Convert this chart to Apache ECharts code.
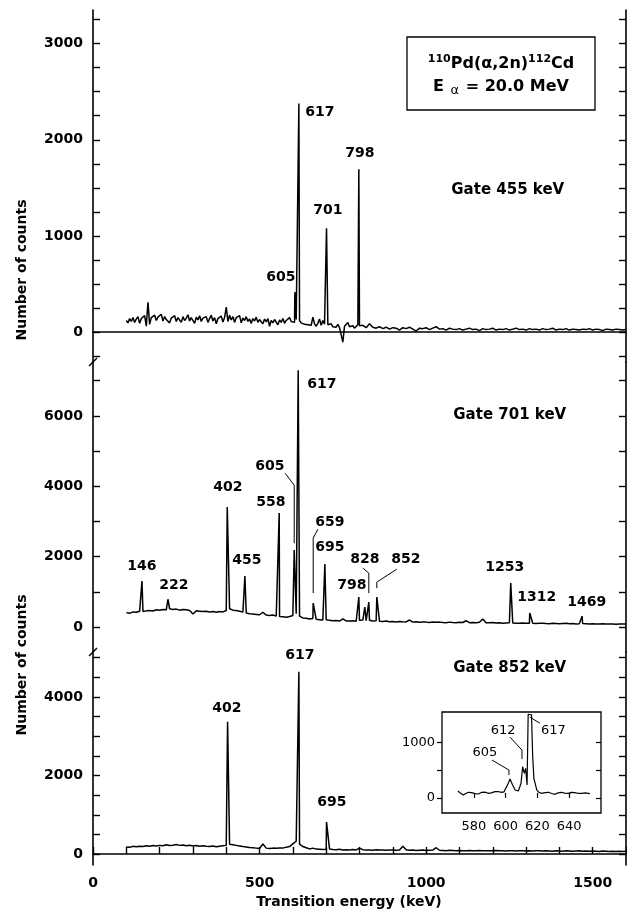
<!DOCTYPE html>
<html>
<head>
<meta charset="utf-8">
<script src="https://cdn.jsdelivr.net/npm/echarts@6/dist/echarts.min.js"></script>
<style>
  html, body { margin: 0; background: #fff; }
  #chart { width: 627px; height: 916px; }
</style>
</head>
<body>
<div id="chart"></div>
<script>
// Gate 455 keV spectrum: 100-800 keV every 5 keV, then 810-1600 keV every 10 keV
var g455Low = [
  120, 95, 140, 110, 150, 100, 135, 160, 90, 140,
  120, 170, 60, 310, 80, 150, 130, 175, 120, 155,
  140, 185, 115, 160, 130, 150, 95, 145, 125, 170,
  110, 150, 135, 100, 160, 120, 145, 180, 115, 150,
  130, 90, 155, 125, 170, 110, 145, 125, 160, 100,
  140, 175, 115, 150, 85, 140, 120, 165, 105, 150,
  260, 110, 175, 125, 160, 100, 150, 130, 170, 95,
  145, 120, 160, 110, 135, 90, 140, 115, 155, 100,
  130, 110, 85, 135, 105, 140, 60, 120, 95, 130,
  110, 75, 125, 100, 140, 90, 120, 105, 150, 110,
  115, 100, 130, 140, 120, 95, 110, 80, 100, 75,
  95, 70, 155, 85, 60, 90, 135, 70, 120, 80,
  95, 75, 60, 85, 55, 70, 50, 80, 45, 65,
  -105, 60, 40, 100, 55, 45, 65, 40, 60, 75,
  65
];
var g455High = [
  70, 45, 85, 50, 40, 55, 35, 50, 30, 45,
  40, 20, 45, 35, 50, 30, 10, 40, 35, 45,
  25, 40, 55, 30, 35, 20, 40, 30, 25, 35,
  20, 30, 40, 25, 30, 15, 35, 25, 30, 40,
  20, 30, 25, 35, 20, 30, 40, 25, 30, 20,
  35, 25, 30, 20, 35, 25, 30, 40, 20, 30,
  25, 35, 20, 30, 25, 20, 30, 25, 35, 20,
  30, 25, 15, 30, 25, 20, 30, 25, 20, 25
];
var g455Peaks = [[606, 415], [618, 2378], [701, 1080], [798, 1693]];

// Gate 701 keV spectrum: 100-1600 keV every 10 keV
var g701Counts = [
  410, 390, 430, 420, 450, 440, 460, 470, 455, 490,
  480, 500, 490, 520, 500, 510, 480, 500, 490, 470,
  370, 460, 450, 440, 450, 430, 440, 420, 440, 430,
  470, 520, 480, 470, 450, 430, 400, 380, 370, 360,
  350, 420, 340, 330, 340, 310, 300, 290, 280, 300,
  330, 380, 310, 260, 250, 230, 240, 220, 210, 200,
  210, 190, 180, 185, 170, 230, 175, 170, 180, 165,
  190, 200, 180, 190, 175, 180, 165, 160, 170, 150,
  155, 145, 160, 150, 145, 200, 140, 150, 135, 145,
  140, 130, 145, 135, 140, 130, 125, 140, 130, 125,
  135, 130, 180, 125, 130, 120, 135, 230, 125, 120,
  130, 115, 120, 110, 115, 120, 115, 110, 105, 115,
  110, 105, 110, 100, 105, 110, 100, 95, 105, 100,
  95, 100, 105, 95, 100, 90, 95, 100, 95, 90,
  95, 90, 85, 95, 90, 85, 90, 80, 85, 90,
  85
];
var g701Peaks = [
  [147, 1306], [225, 790], [403, 3408], [456, 1448], [559, 3238], [604, 2187],
  [616, 7300], [661, 680], [696, 1790], [798, 850], [816, 570], [828, 710],
  [852, 850], [1254, 1250], [1311, 400], [1468, 310]
];

// Gate 852 keV spectrum: 100-1600 keV every 10 keV
var g852Counts = [
  180, 170, 195, 185, 200, 190, 210, 200, 215, 205,
  220, 210, 235, 215, 225, 240, 220, 230, 210, 225,
  205, 215, 200, 210, 195, 190, 205, 185, 200, 210,
  220, 250, 235, 220, 205, 190, 180, 165, 160, 150,
  140, 255, 150, 140, 150, 145, 155, 150, 175, 190,
  260, 330, 250, 190, 160, 130, 150, 125, 120, 115,
  120, 130, 115, 110, 120, 105, 110, 100, 115, 105,
  150, 110, 100, 105, 95, 110, 100, 105, 95, 100,
  105, 95, 100, 200, 110, 95, 100, 90, 95, 100,
  90, 95, 100, 160, 95, 90, 85, 95, 90, 85,
  90, 85, 80, 90, 85, 80, 90, 85, 80, 85,
  80, 90, 85, 80, 75, 85, 80, 75, 85, 80,
  75, 80, 75, 85, 80, 75, 80, 75, 70, 80,
  75, 70, 80, 75, 70, 75, 80, 70, 75, 70,
  75, 70, 65, 75, 70, 65, 70, 65, 70, 65,
  70
];
var g852Peaks = [[404, 3366], [618, 4640], [701, 815]];

// inset: Gate 852 keV around 617 keV
var insetE = [570, 571.5, 573.4, 575, 576.6, 578.5, 580.8, 583, 585, 587, 589, 591, 593.3, 595, 597.5, 599,
  600, 601.7, 602.8, 604.2, 606, 608, 609.7, 610.7, 611.8, 612.6, 613.5, 614.2, 616.3, 617, 617.8, 619.6,
  621, 622.7, 625, 626.9, 629, 631, 633, 635.3, 637, 639.4, 641.5, 643.6, 646, 647.9, 650, 653];
var insetC = [125, 90, 54, 80, 101, 95, 77, 70, 101, 105, 83, 90, 113, 115, 101, 110,
  143, 262, 339, 244, 143, 125, 262, 560, 440, 530, 232, 1500, 1490, 768, 351, 143,
  100, 83, 95, 101, 80, 65, 90, 101, 85, 83, 100, 95, 80, 83, 90, 77];

// tick values
var xTickVals = [0, 100, 200, 300, 400, 500, 600, 700, 800, 900, 1000, 1100, 1200, 1300, 1400, 1500, 1600];
var xLabelVals = [0, 500, 1000, 1500];
var y455Ticks = [-250, 0, 250, 500, 750, 1000, 1250, 1500, 1750, 2000, 2250, 2500, 2750, 3000, 3250];
var y455Labels = [0, 1000, 2000, 3000];
var y701Ticks = [0, 1000, 2000, 3000, 4000, 5000, 6000, 7000];
var y701Labels = [0, 2000, 4000, 6000];
var y852Ticks = [0, 500, 1000, 1500, 2000, 2500, 3000, 3500, 4000, 4500, 5000];
var y852Labels = [0, 2000, 4000];
var insetXTicks = [580, 600, 620, 640];
var insetYTicks = [0, 500, 1000];
var insetYLabels = [0, 1000];

// peak labels [energy, counts, text]
var labels455 = [[564, 571, '605'], [681, 2284, '617'], [705, 1266, '701'], [801, 1858, '798']];
var labels701 = [
  [147, 1731, '146'], [243, 1192, '222'], [405, 3972, '402'], [462, 1901, '455'],
  [534, 3546, '558'], [531, 4568, '605'], [687, 6894, '617'], [711, 2979, '659'],
  [711, 2270, '695'], [777, 1192, '798'], [816, 1929, '828'], [939, 1929, '852'],
  [1236, 1702, '1253'], [1332, 851, '1312'], [1482, 709, '1469']
];
var labels852 = [[402, 3720, '402'], [621, 5070, '617'], [717, 1325, '695']];
var gateLabels455 = [[1245, 1474, 'Gate 455 keV']];
var gateLabels701 = [[1251, 6015, 'Gate 701 keV']];
var gateLabels852 = [[1251, 4739, 'Gate 852 keV']];
var insetLabels = [[598.4, 1214, '612'], [587, 804, '605'], [630, 1214, '617']];

// leader lines
var leaders701 = [
  [[577, 4369], [604, 4029], [604, 2380]],
  [[675, 2780], [661, 2525], [661, 965]],
  [[810, 1674], [828, 1532], [828, 965]],
  [[912, 1645], [852, 1277], [852, 1106]]
];
var leadersInset = [
  [[602.8, 1089], [610.3, 857], [610.3, 697]],
  [[591.4, 679], [602.1, 500], [602.1, 411]],
  [[621.6, 1339], [615.3, 1447]]
];

var FONT = 'DejaVu Sans';

function plain(v) { return String(v); }

function spectrum(start, step, counts, peaks) {
  var pts = counts.map(function (c, i) { return [start + i * step, c]; });
  return pts.concat(peaks).sort(function (a, b) { return a[0] - b[0]; });
}

var data455 = spectrum(100, 5, g455Low, []).concat(spectrum(810, 10, g455High, []))
  .concat(g455Peaks).sort(function (a, b) { return a[0] - b[0]; });
var data701 = spectrum(100, 10, g701Counts, g701Peaks);
var data852 = spectrum(100, 10, g852Counts, g852Peaks);
var dataInset = insetE.map(function (e, i) { return [e, insetC[i]]; });

function yLeft(gi, min, max, ticks, labels) {
  return {
    type: 'value', gridIndex: gi, min: min, max: max, position: 'left',
    axisLine: { show: true, lineStyle: { color: '#000', width: 1.6 } },
    axisTick: { show: true, inside: true, length: 7, customValues: ticks, lineStyle: { color: '#000', width: 1.4 } },
    axisLabel: { show: true, customValues: labels, formatter: plain, margin: 10, color: '#000', fontFamily: FONT, fontWeight: 'bold', fontSize: 14 },
    splitLine: { show: false }
  };
}
function yRight(gi, min, max, ticks) {
  return {
    type: 'value', gridIndex: gi, min: min, max: max, position: 'right',
    axisLine: { show: true, lineStyle: { color: '#000', width: 1.6 } },
    axisTick: { show: true, inside: true, length: 7, customValues: ticks, lineStyle: { color: '#000', width: 1.4 } },
    axisLabel: { show: false },
    splitLine: { show: false }
  };
}

function specSeries(data, xi, yi, w) {
  return {
    type: 'line', data: data, xAxisIndex: xi, yAxisIndex: yi,
    symbol: 'none', showSymbol: false, silent: true,
    lineStyle: { color: '#000', width: w }
  };
}
function labelSeries(items, xi, yi, size, weight) {
  return {
    type: 'scatter', data: items, xAxisIndex: xi, yAxisIndex: yi,
    symbolSize: 1, itemStyle: { color: 'rgba(0,0,0,0)', opacity: 1 }, silent: true, z: 5,
    label: {
      show: true, position: 'inside', align: 'center', verticalAlign: 'middle', opacity: 1,
      formatter: function (p) { return p.data[2]; },
      color: '#000', fontFamily: FONT, fontWeight: weight, fontSize: size
    }
  };
}
function leaderSeries(pts, xi, yi) {
  return {
    type: 'line', data: pts, xAxisIndex: xi, yAxisIndex: yi,
    symbol: 'none', silent: true, z: 4,
    lineStyle: { color: '#000', width: 1 }
  };
}

var chart = echarts.init(document.getElementById('chart'));

var series = [
  specSeries(data455, 0, 0, 1.5),
  specSeries(data701, 1, 2, 1.5),
  specSeries(data852, 2, 4, 1.5),
  specSeries(dataInset, 3, 6, 1.2),
  labelSeries(labels455, 0, 0, 14, 'bold'),
  labelSeries(gateLabels455, 0, 0, 15, 'bold'),
  labelSeries(labels701, 1, 2, 14, 'bold'),
  labelSeries(gateLabels701, 1, 2, 15, 'bold'),
  labelSeries(labels852, 2, 4, 14, 'bold'),
  labelSeries(gateLabels852, 2, 4, 15, 'bold'),
  labelSeries(insetLabels, 3, 6, 13, 'normal')
];
leaders701.forEach(function (l) { series.push(leaderSeries(l, 1, 2)); });
leadersInset.forEach(function (l) { series.push(leaderSeries(l, 3, 6)); });

var option = {
  animation: false,
  backgroundColor: '#fff',
  grid: [
    { left: 93, right: 1, top: 10, height: 352 },
    { left: 93, right: 1, top: 362, height: 290 },
    { left: 93, right: 1, top: 652, height: 213 },
    { left: 442, top: 712, width: 159, height: 101, show: true, borderColor: '#000', borderWidth: 1.3, backgroundColor: '#fff', z: 3 }
  ],
  xAxis: [
    { type: 'value', gridIndex: 0, min: 0, max: 1600, position: 'top',
      axisLine: { show: true, lineStyle: { color: '#000', width: 1.6 } },
      axisTick: { show: false }, axisLabel: { show: false }, splitLine: { show: false } },
    { type: 'value', gridIndex: 1, min: 0, max: 1600, show: false },
    { type: 'value', gridIndex: 2, min: 0, max: 1600, interval: 100, position: 'bottom',
      axisLine: { show: true, lineStyle: { color: '#000', width: 1.6 } },
      axisTick: { show: true, inside: true, length: 7, customValues: xTickVals, lineStyle: { color: '#000', width: 1.4 } },
      axisLabel: { show: true, customValues: xLabelVals, formatter: plain, margin: 11, color: '#000', fontFamily: FONT, fontWeight: 'bold', fontSize: 14 },
      splitLine: { show: false } },
    { type: 'value', gridIndex: 3, min: 560, max: 660, interval: 20, position: 'bottom', z: 4,
      axisLine: { show: false },
      axisTick: { show: true, inside: true, length: 5, customValues: insetXTicks, lineStyle: { color: '#000', width: 1.2 } },
      axisLabel: { show: true, customValues: insetXTicks, formatter: plain, margin: 7, color: '#000', fontFamily: FONT, fontSize: 13 },
      splitLine: { show: false } }
  ],
  yAxis: [
    yLeft(0, -312, 3350, y455Ticks, y455Labels),
    yRight(0, -312, 3350, y455Ticks),
    yLeft(1, -709, 7532, y701Ticks, y701Labels),
    yRight(1, -709, 7532, y701Ticks),
    yLeft(2, -280, 5146, y852Ticks, y852Labels),
    yRight(2, -280, 5146, y852Ticks),
    { type: 'value', gridIndex: 3, min: -270, max: 1540, position: 'left', z: 4,
      axisLine: { show: false },
      axisTick: { show: true, inside: false, length: 5, customValues: insetYTicks, lineStyle: { color: '#000', width: 1.2 } },
      axisLabel: { show: true, customValues: insetYLabels, formatter: plain, margin: 7, color: '#000', fontFamily: FONT, fontSize: 13 },
      splitLine: { show: false } },
    { type: 'value', gridIndex: 3, min: -270, max: 1540, position: 'right', z: 4,
      axisLine: { show: false },
      axisTick: { show: true, inside: true, length: 5, customValues: insetYTicks, lineStyle: { color: '#000', width: 1.2 } },
      axisLabel: { show: false },
      splitLine: { show: false } }
  ],
  graphic: [
    { type: 'rect', shape: { x: 407, y: 37, width: 188, height: 73 },
      style: { fill: '#fff', stroke: '#000', lineWidth: 1.3 }, z: 10 },
    { type: 'text', x: 501, y: 75, z: 11,
      style: {
        text: '{sup|110}{b|Pd(α,2n)}{sup|112}{b|Cd}\n{b|E }{sub|α}{b| = 20.0 MeV}',
        align: 'center', verticalAlign: 'middle', fill: '#000',
        rich: {
          b: { fontFamily: FONT, fontWeight: 'bold', fontSize: 16, lineHeight: 23, fill: '#000' },
          sup: { fontFamily: FONT, fontWeight: 'bold', fontSize: 11, padding: [0, 0, 9, 0], fill: '#000' },
          sub: { fontFamily: FONT, fontWeight: 'normal', fontSize: 13, padding: [9, 1, 0, 1], fill: '#000' }
        }
      } },
    { type: 'text', x: 22, y: 270, rotation: Math.PI / 2,
      style: { text: 'Number of counts', font: 'bold 14px "DejaVu Sans"', align: 'center', verticalAlign: 'middle', fill: '#000' } },
    { type: 'text', x: 22, y: 665, rotation: Math.PI / 2,
      style: { text: 'Number of counts', font: 'bold 14px "DejaVu Sans"', align: 'center', verticalAlign: 'middle', fill: '#000' } },
    { type: 'text', x: 349, y: 902,
      style: { text: 'Transition energy (keV)', font: 'bold 14px "DejaVu Sans"', align: 'center', verticalAlign: 'middle', fill: '#000' } },
    { type: 'line', shape: { x1: 89, y1: 366, x2: 97, y2: 358 }, style: { stroke: '#000', lineWidth: 1.5 } },
    { type: 'line', shape: { x1: 89, y1: 656, x2: 97, y2: 648 }, style: { stroke: '#000', lineWidth: 1.5 } }
  ],
  series: series
};

chart.setOption(option);
</script>
</body>
</html>
